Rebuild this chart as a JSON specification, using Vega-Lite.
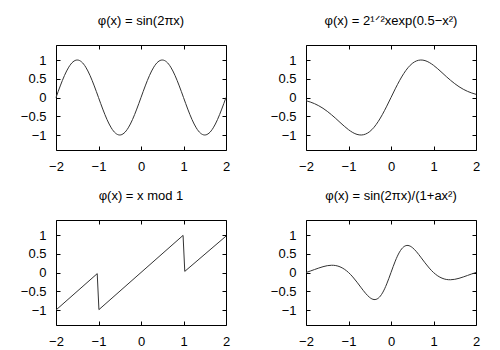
{
  "$schema": "https://vega.github.io/schema/vega-lite/v6.json",
  "background": "white",
  "padding": {"left": 19, "top": 14, "right": 5, "bottom": 5},
  "datasets": {
    "p1": [
      {"x": -2, "y": 0}, {"x": -1.9, "y": 0.309}, {"x": -1.8, "y": 0.588}, {"x": -1.7, "y": 0.809}, {"x": -1.6, "y": 0.951},
      {"x": -1.5, "y": 1}, {"x": -1.4, "y": 0.951}, {"x": -1.3, "y": 0.809}, {"x": -1.2, "y": 0.588}, {"x": -1.1, "y": 0.309},
      {"x": -1, "y": 0}, {"x": -0.9, "y": -0.309}, {"x": -0.8, "y": -0.588}, {"x": -0.7, "y": -0.809}, {"x": -0.6, "y": -0.951},
      {"x": -0.5, "y": -1}, {"x": -0.4, "y": -0.951}, {"x": -0.3, "y": -0.809}, {"x": -0.2, "y": -0.588}, {"x": -0.1, "y": -0.309},
      {"x": 0, "y": 0}, {"x": 0.1, "y": 0.309}, {"x": 0.2, "y": 0.588}, {"x": 0.3, "y": 0.809}, {"x": 0.4, "y": 0.951},
      {"x": 0.5, "y": 1}, {"x": 0.6, "y": 0.951}, {"x": 0.7, "y": 0.809}, {"x": 0.8, "y": 0.588}, {"x": 0.9, "y": 0.309},
      {"x": 1, "y": 0}, {"x": 1.1, "y": -0.309}, {"x": 1.2, "y": -0.588}, {"x": 1.3, "y": -0.809}, {"x": 1.4, "y": -0.951},
      {"x": 1.5, "y": -1}, {"x": 1.6, "y": -0.951}, {"x": 1.7, "y": -0.809}, {"x": 1.8, "y": -0.588}, {"x": 1.9, "y": -0.309},
      {"x": 2, "y": 0}
    ],
    "p2": [
      {"x": -2, "y": -0.085}, {"x": -1.9, "y": -0.120}, {"x": -1.8, "y": -0.164}, {"x": -1.7, "y": -0.220}, {"x": -1.6, "y": -0.288},
      {"x": -1.5, "y": -0.369}, {"x": -1.4, "y": -0.460}, {"x": -1.3, "y": -0.559}, {"x": -1.2, "y": -0.663}, {"x": -1.1, "y": -0.765},
      {"x": -1, "y": -0.858}, {"x": -0.9, "y": -0.934}, {"x": -0.8, "y": -0.984}, {"x": -0.7, "y": -1.000}, {"x": -0.6, "y": -0.976},
      {"x": -0.5, "y": -0.908}, {"x": -0.4, "y": -0.795}, {"x": -0.3, "y": -0.639}, {"x": -0.2, "y": -0.448}, {"x": -0.1, "y": -0.231},
      {"x": 0, "y": 0}, {"x": 0.1, "y": 0.231}, {"x": 0.2, "y": 0.448}, {"x": 0.3, "y": 0.639}, {"x": 0.4, "y": 0.795},
      {"x": 0.5, "y": 0.908}, {"x": 0.6, "y": 0.976}, {"x": 0.7, "y": 1.000}, {"x": 0.8, "y": 0.984}, {"x": 0.9, "y": 0.934},
      {"x": 1, "y": 0.858}, {"x": 1.1, "y": 0.765}, {"x": 1.2, "y": 0.663}, {"x": 1.3, "y": 0.559}, {"x": 1.4, "y": 0.460},
      {"x": 1.5, "y": 0.369}, {"x": 1.6, "y": 0.288}, {"x": 1.7, "y": 0.220}, {"x": 1.8, "y": 0.164}, {"x": 1.9, "y": 0.120},
      {"x": 2, "y": 0.085}
    ],
    "p3": [
      {"x": -2, "y": -1}, {"x": -1.03, "y": -0.03}, {"x": -0.99, "y": -0.99},
      {"x": 0.99, "y": 0.99}, {"x": 1.03, "y": 0.03}, {"x": 2, "y": 0.97}
    ],
    "p4": [
      {"x": -2, "y": 0}, {"x": -1.9, "y": 0.038}, {"x": -1.8, "y": 0.079}, {"x": -1.7, "y": 0.119}, {"x": -1.6, "y": 0.155},
      {"x": -1.5, "y": 0.182}, {"x": -1.4, "y": 0.193}, {"x": -1.3, "y": 0.185}, {"x": -1.2, "y": 0.151}, {"x": -1.1, "y": 0.090},
      {"x": -1, "y": 0}, {"x": -0.9, "y": -0.118}, {"x": -0.8, "y": -0.258}, {"x": -0.7, "y": -0.409}, {"x": -0.6, "y": -0.553},
      {"x": -0.5, "y": -0.667}, {"x": -0.4, "y": -0.721}, {"x": -0.3, "y": -0.686}, {"x": -0.2, "y": -0.544}, {"x": -0.1, "y": -0.303},
      {"x": 0, "y": 0}, {"x": 0.1, "y": 0.303}, {"x": 0.2, "y": 0.544}, {"x": 0.3, "y": 0.686}, {"x": 0.4, "y": 0.721},
      {"x": 0.5, "y": 0.667}, {"x": 0.6, "y": 0.553}, {"x": 0.7, "y": 0.409}, {"x": 0.8, "y": 0.258}, {"x": 0.9, "y": 0.118},
      {"x": 1, "y": 0}, {"x": 1.1, "y": -0.090}, {"x": 1.2, "y": -0.151}, {"x": 1.3, "y": -0.185}, {"x": 1.4, "y": -0.193},
      {"x": 1.5, "y": -0.182}, {"x": 1.6, "y": -0.155}, {"x": 1.7, "y": -0.119}, {"x": 1.8, "y": -0.079}, {"x": 1.9, "y": -0.038},
      {"x": 2, "y": 0}
    ]
  },
  "columns": 2,
  "spacing": {"row": 70, "column": 80},
  "bounds": "flush",
  "concat": [
    {
      "title": "φ(x) = sin(2πx)",
      "width": 170, "height": 105,
      "data": {"name": "p1"},
      "layer": [
        {"mark": {"type": "line", "interpolate": "natural", "color": "#333333", "strokeWidth": 1},
         "encoding": {
           "x": {"field": "x", "type": "quantitative", "scale": {"domain": [-2, 2], "nice": false, "zero": false}, "axis": {"orient": "bottom", "values": [-2, -1, 0, 1, 2], "title": null}},
           "y": {"field": "y", "type": "quantitative", "scale": {"domain": [-1.4, 1.4], "nice": false, "zero": false}, "axis": {"orient": "left", "values": [-1, -0.5, 0, 0.5, 1], "format": ".1~f", "title": null}}
         }},
        {"mark": {"type": "line", "opacity": 0},
         "encoding": {
           "x": {"field": "x", "type": "quantitative", "scale": {"domain": [-2, 2], "nice": false, "zero": false}, "axis": {"orient": "top", "values": [-2, -1, 0, 1, 2], "labels": false, "title": null}},
           "y": {"field": "y", "type": "quantitative", "scale": {"domain": [-1.4, 1.4], "nice": false, "zero": false}, "axis": {"orient": "right", "values": [-1, -0.5, 0, 0.5, 1], "labels": false, "title": null}}
         }}
      ],
      "resolve": {"axis": {"x": "independent", "y": "independent"}}
    },
    {
      "title": "φ(x) = 2¹ᐟ²xexp(0.5−x²)",
      "width": 170, "height": 105,
      "data": {"name": "p2"},
      "layer": [
        {"mark": {"type": "line", "interpolate": "natural", "color": "#333333", "strokeWidth": 1},
         "encoding": {
           "x": {"field": "x", "type": "quantitative", "scale": {"domain": [-2, 2], "nice": false, "zero": false}, "axis": {"orient": "bottom", "values": [-2, -1, 0, 1, 2], "title": null}},
           "y": {"field": "y", "type": "quantitative", "scale": {"domain": [-1.4, 1.4], "nice": false, "zero": false}, "axis": {"orient": "left", "values": [-1, -0.5, 0, 0.5, 1], "format": ".1~f", "title": null}}
         }},
        {"mark": {"type": "line", "opacity": 0},
         "encoding": {
           "x": {"field": "x", "type": "quantitative", "scale": {"domain": [-2, 2], "nice": false, "zero": false}, "axis": {"orient": "top", "values": [-2, -1, 0, 1, 2], "labels": false, "title": null}},
           "y": {"field": "y", "type": "quantitative", "scale": {"domain": [-1.4, 1.4], "nice": false, "zero": false}, "axis": {"orient": "right", "values": [-1, -0.5, 0, 0.5, 1], "labels": false, "title": null}}
         }}
      ],
      "resolve": {"axis": {"x": "independent", "y": "independent"}}
    },
    {
      "title": "φ(x) = x mod 1",
      "width": 170, "height": 105,
      "data": {"name": "p3"},
      "layer": [
        {"mark": {"type": "line", "interpolate": "linear", "color": "#333333", "strokeWidth": 1},
         "encoding": {
           "x": {"field": "x", "type": "quantitative", "scale": {"domain": [-2, 2], "nice": false, "zero": false}, "axis": {"orient": "bottom", "values": [-2, -1, 0, 1, 2], "title": null}},
           "y": {"field": "y", "type": "quantitative", "scale": {"domain": [-1.4, 1.4], "nice": false, "zero": false}, "axis": {"orient": "left", "values": [-1, -0.5, 0, 0.5, 1], "format": ".1~f", "title": null}}
         }},
        {"mark": {"type": "line", "opacity": 0},
         "encoding": {
           "x": {"field": "x", "type": "quantitative", "scale": {"domain": [-2, 2], "nice": false, "zero": false}, "axis": {"orient": "top", "values": [-2, -1, 0, 1, 2], "labels": false, "title": null}},
           "y": {"field": "y", "type": "quantitative", "scale": {"domain": [-1.4, 1.4], "nice": false, "zero": false}, "axis": {"orient": "right", "values": [-1, -0.5, 0, 0.5, 1], "labels": false, "title": null}}
         }}
      ],
      "resolve": {"axis": {"x": "independent", "y": "independent"}}
    },
    {
      "title": "φ(x) = sin(2πx)/(1+ax²)",
      "width": 170, "height": 105,
      "data": {"name": "p4"},
      "layer": [
        {"mark": {"type": "line", "interpolate": "natural", "color": "#333333", "strokeWidth": 1},
         "encoding": {
           "x": {"field": "x", "type": "quantitative", "scale": {"domain": [-2, 2], "nice": false, "zero": false}, "axis": {"orient": "bottom", "values": [-2, -1, 0, 1, 2], "title": null}},
           "y": {"field": "y", "type": "quantitative", "scale": {"domain": [-1.4, 1.4], "nice": false, "zero": false}, "axis": {"orient": "left", "values": [-1, -0.5, 0, 0.5, 1], "format": ".1~f", "title": null}}
         }},
        {"mark": {"type": "line", "opacity": 0},
         "encoding": {
           "x": {"field": "x", "type": "quantitative", "scale": {"domain": [-2, 2], "nice": false, "zero": false}, "axis": {"orient": "top", "values": [-2, -1, 0, 1, 2], "labels": false, "title": null}},
           "y": {"field": "y", "type": "quantitative", "scale": {"domain": [-1.4, 1.4], "nice": false, "zero": false}, "axis": {"orient": "right", "values": [-1, -0.5, 0, 0.5, 1], "labels": false, "title": null}}
         }}
      ],
      "resolve": {"axis": {"x": "independent", "y": "independent"}}
    }
  ],
  "config": {
    "view": {"stroke": "black", "strokeWidth": 1},
    "axis": {
      "domain": false, "grid": false, "ticks": true, "tickSize": 4, "offset": -4,
      "tickColor": "black", "tickWidth": 1,
      "labelFont": "Liberation Sans", "labelFontSize": 13, "labelColor": "black",
      "labelPadding": 10, "labelFlush": false, "labelOverlap": false
    },
    "title": {"font": "Liberation Sans", "fontSize": 13, "fontWeight": "normal", "color": "black", "anchor": "middle", "frame": "group", "baseline": "alphabetic", "offset": 17}
  }
}
